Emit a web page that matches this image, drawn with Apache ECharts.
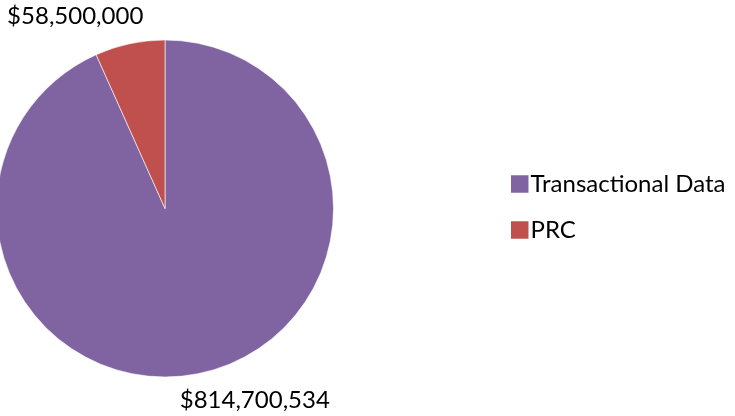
<!DOCTYPE html>
<html><head><meta charset="utf-8">
<script src="https://cdn.jsdelivr.net/npm/echarts@6/dist/echarts.min.js"></script>
<style>html,body{margin:0;padding:0;background:#fff}#c{width:735px;height:416px}</style>
</head><body><div id="c"></div>
<script>
const categories = ['Transactional Data', 'PRC'];
const values = [814700534, 58500000];
const colors = ['#8064A2', '#C0504D'];
const FONT = 'Lato';
const CX = 165, CY = 208.5, R = 168.5, LABEL_R = 212, ROT = 13;

const total = values.reduce((a, b) => a + b, 0);
// mid angles (clockwise from 12 o'clock, degrees)
let acc = 0;
const mids = values.map(v => { const a = (acc + v / 2) / total * 360; acc += v; return a; });

const chart = echarts.init(document.getElementById('c'), null, {renderer: 'canvas'});
chart.setOption({
  animation: false,
  textStyle: {fontFamily: FONT},
  legend: {
    orient: 'vertical', left: 506, top: 167,
    itemWidth: 17.5, itemHeight: 17.5, itemGap: 22, icon: 'rect',
    itemStyle: {borderWidth: 0},
    textStyle: {fontFamily: FONT, fontSize: 24, color: '#000', padding: [0, 0, 0, -3]},
    data: categories
  },
  series: [{
    type: 'pie', center: [CX, CY], radius: R, startAngle: 90, clockwise: true,
    itemStyle: {borderColor: '#ffffff', borderWidth: 0.6},
    label: {
      show: true, position: 'outside', fontFamily: FONT, fontSize: 24, color: '#000',
      overflow: 'none', width: 300,
      formatter: p => '$' + p.value.toLocaleString('en-US')
    },
    labelLine: {show: false},
    labelLayout: p => {
      const a = (mids[p.dataIndex] - ROT) * Math.PI / 180;
      return {x: CX + LABEL_R * Math.sin(a), y: CY - LABEL_R * Math.cos(a), align: 'center', verticalAlign: 'middle'};
    },
    emphasis: {disabled: true},
    data: categories.map((n, i) => ({name: n, value: values[i], itemStyle: {color: colors[i]}}))
  }]
});
</script></body></html>
